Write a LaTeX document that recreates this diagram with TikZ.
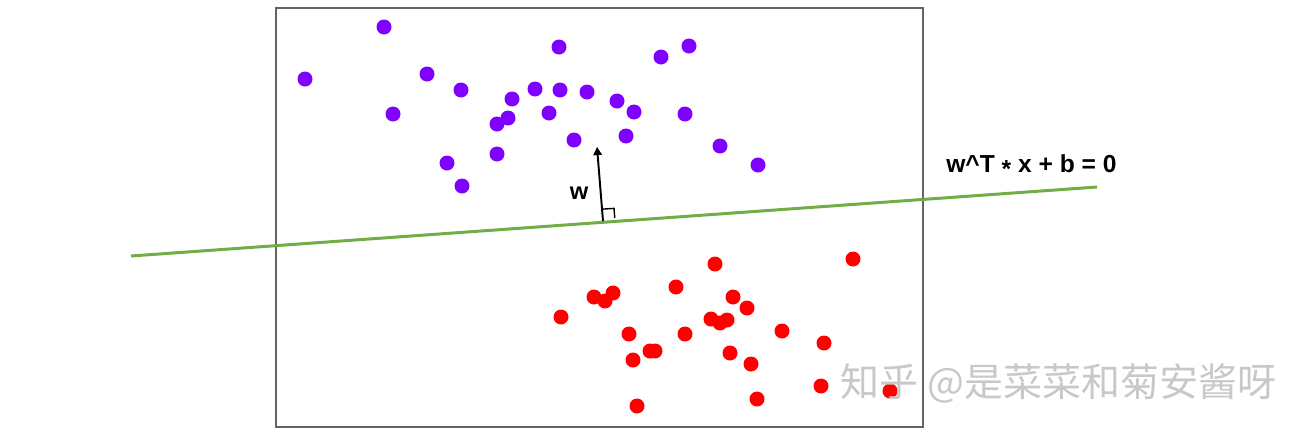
\documentclass[tikz,border=0pt]{standalone}
\usepackage{fontspec}
\setmainfont{Liberation Sans}
\newfontfamily\cjkfont{Noto Sans CJK SC}
\usetikzlibrary{arrows.meta, positioning, calc}
\definecolor{classpurple}{RGB}{127,0,255}
\definecolor{classred}{RGB}{255,0,0}
\definecolor{planegreen}{RGB}{112,173,71}
\definecolor{framegray}{RGB}{100,100,100}
\definecolor{markgray}{RGB}{200,200,200}
\tikzset{
  dot/.style={circle, inner sep=0pt, minimum size=0.3cm},
  purpledot/.style={dot, fill=classpurple},
  reddot/.style={dot, fill=classred},
  frame/.style={draw=framegray, line width=1.1pt},
  plane/.style={draw=planegreen, line width=1.7pt},
  normalarrow/.style={-{Triangle[length=4.6pt, width=4.8pt]}, line width=1.1pt},
  lbl/.style={font=\fontsize{13.5}{15}\selectfont\bfseries, inner sep=0pt},
}

\begin{document}
\begin{tikzpicture}[x=0.02cm, y=-0.02cm]

  \useasboundingbox (0,0) rectangle (1309,437);

  %% frame
  \draw[frame] (276,8) rectangle (923,427);

  %% class 1 (purple)
  \foreach \px/\py [count=\i] in {384/27, 305/79, 559/47, 661/57, 689/46,
      427/74, 461/90, 512/99, 535/89, 560/90, 587/92, 617/101, 634/112,
      393/114, 508/118, 497/124, 549/113, 574/140, 626/136, 685/114,
      497/154, 447/163, 462/186, 720/146, 758/165}
    \node[purpledot] (p\i) at (\px,\py) {};

  %% class 2 (red)
  \foreach \px/\py [count=\i] in {715/264, 853/259, 676/287, 594/297, 605/301,
      613/293, 561/317, 733/297, 747/308, 711/319, 720/323, 727/320,
      629/334, 685/334, 782/331, 824/343, 650/351, 655/351, 633/360,
      730/353, 751/364, 821/386, 890/391, 757/399, 637/406}
    \node[reddot] (r\i) at (\px,\py) {};

  %% separating hyperplane
  \coordinate (lineL) at (131,256);
  \coordinate (lineR) at (1097,187);
  \draw[plane] (lineL) -- (lineR);
  \node[lbl, anchor=west, font=\fontsize{14}{16}\selectfont\bfseries] (eq) at (946,166)
    {w\^{}T \raisebox{-0.35ex}{*} x + b = 0};

  %% normal vector w
  \coordinate (wbase) at (603,221);
  \coordinate (wtip) at (597,147);
  \draw[normalarrow] (wbase) -- (wtip);
  \draw[line width=0.8pt] ($(wbase)!0.16!(wtip)$) -- ++(12,-0.8) -- ++(0.7,9.6);
  \node[lbl] (wlbl) at (579,193) {w};

  %% watermark
  \node[anchor=west, inner sep=0pt, text=markgray,
        font=\cjkfont\fontsize{22.2}{25}\selectfont] (mark) at (840,383)
    {知乎 @是菜菜和菊安酱呀};

\end{tikzpicture}
\end{document}
